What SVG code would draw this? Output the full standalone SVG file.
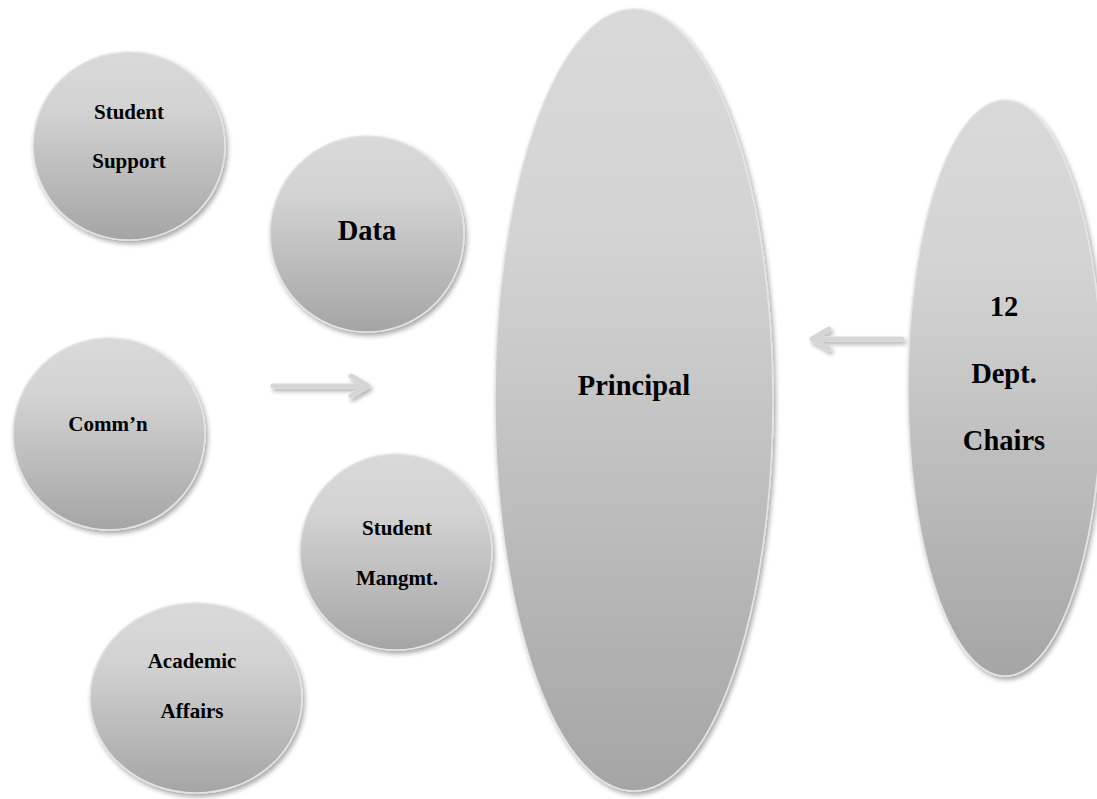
<svg xmlns="http://www.w3.org/2000/svg" width="1097" height="799" viewBox="0 0 1097 799">
<defs>
<linearGradient id="g" x1="0" y1="0" x2="0" y2="1">
<stop offset="0" stop-color="#d9d9d9"/>
<stop offset="0.3" stop-color="#d3d3d3"/>
<stop offset="1" stop-color="#a5a5a5"/>
</linearGradient>
<filter id="sh" x="-10%" y="-10%" width="125%" height="125%">
<feDropShadow dx="2" dy="3" stdDeviation="2.5" flood-color="#000" flood-opacity="0.35"/>
</filter>
<filter id="ash" x="-20%" y="-50%" width="140%" height="200%">
<feDropShadow dx="2" dy="3" stdDeviation="2" flood-color="#000" flood-opacity="0.3"/>
</filter>
</defs>
<style>
.n{fill:url(#g);stroke:#e4e4e4;stroke-width:1.5;filter:url(#sh)}
.t{font-family:"Liberation Serif","Times New Roman",serif;font-weight:bold;fill:#000;text-anchor:middle}
.s{font-size:21px}
.l{font-size:28.5px}
.a{fill:none;stroke:#d6d6d6;stroke-width:5;stroke-linecap:round;stroke-linejoin:round;filter:url(#ash)}
</style>
<rect width="1097" height="799" fill="#fff"/>
<g id="principal">
<ellipse class="n" cx="634" cy="400" rx="139" ry="391"/>
<text class="t l" x="634" y="395">Principal</text>
</g>
<g id="dept-chairs">
<ellipse class="n" cx="1005" cy="388" rx="97" ry="288"/>
<text class="t l" x="1004" y="316">12</text>
<text class="t l" x="1004" y="383">Dept.</text>
<text class="t l" x="1004" y="450">Chairs</text>
</g>
<g id="student-support">
<ellipse class="n" cx="129" cy="146" rx="96" ry="94"/>
<text class="t s" x="129" y="119">Student</text>
<text class="t s" x="129" y="168">Support</text>
</g>
<g id="data">
<ellipse class="n" cx="367" cy="234" rx="97" ry="98"/>
<text class="t l" x="367" y="240">Data</text>
</g>
<g id="commn">
<ellipse class="n" cx="109" cy="434" rx="96" ry="96"/>
<text class="t s" x="108" y="431">Comm’n</text>
</g>
<g id="student-mangmt">
<ellipse class="n" cx="396" cy="552" rx="96" ry="98"/>
<text class="t s" x="397" y="535">Student</text>
<text class="t s" x="397" y="585">Mangmt.</text>
</g>
<g id="academic-affairs">
<ellipse class="n" cx="196" cy="698" rx="106" ry="95"/>
<text class="t s" x="192" y="668">Academic</text>
<text class="t s" x="192" y="718">Affairs</text>
</g>
<g id="connectors">
<path class="a" d="M273 386 H368 M351 376 L368 386 L351 396"/>
<path class="a" d="M902 339 H812 M829 329 L812 339 L829 349"/>
</g>
</svg>
